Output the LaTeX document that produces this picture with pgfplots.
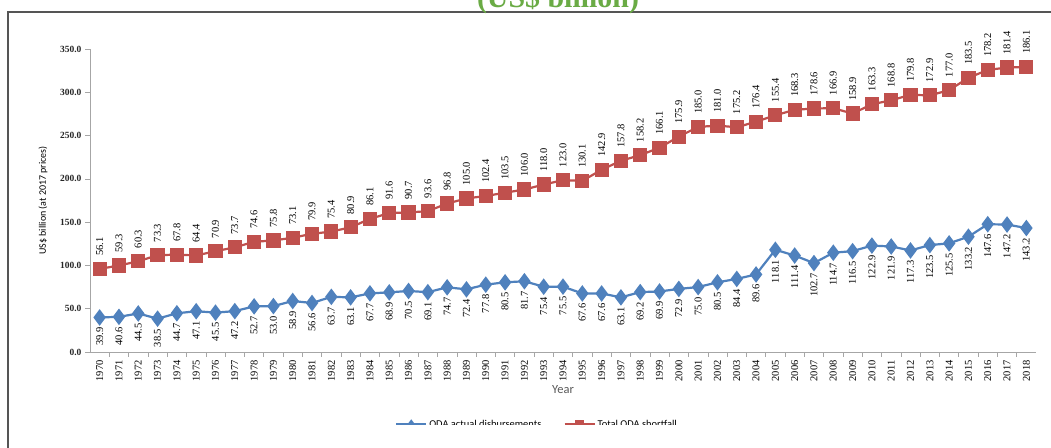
\documentclass[border=0pt]{standalone}
\usepackage{fontspec}
\setmainfont{Liberation Serif}
\newfontfamily\calibri{Carlito}
\usepackage{pgfplots}
\usepackage{pgfplotstable}
\pgfplotsset{compat=1.18}
\definecolor{odablue}{HTML}{4F81BD}
\definecolor{shortred}{HTML}{C0504D}
\definecolor{titlegreen}{HTML}{6AAB45}
\definecolor{framegray}{HTML}{555555}
\definecolor{axisgray}{HTML}{A6A6A6}

% oda = actual disbursements, short = shortfall (stacked on top of oda)
\pgfplotstableread{
i  year oda   short
0  1970 39.9  56.1
1  1971 40.6  59.3
2  1972 44.5  60.3
3  1973 38.5  73.3
4  1974 44.7  67.8
5  1975 47.1  64.4
6  1976 45.5  70.9
7  1977 47.2  73.7
8  1978 52.7  74.6
9  1979 53.0  75.8
10 1980 58.9  73.1
11 1981 56.6  79.9
12 1982 63.7  75.4
13 1983 63.1  80.9
14 1984 67.7  86.1
15 1985 68.9  91.6
16 1986 70.5  90.7
17 1987 69.1  93.6
18 1988 74.7  96.8
19 1989 72.4  105.0
20 1990 77.8  102.4
21 1991 80.5  103.5
22 1992 81.7  106.0
23 1993 75.4  118.0
24 1994 75.5  123.0
25 1995 67.6  130.1
26 1996 67.6  142.9
27 1997 63.1  157.8
28 1998 69.2  158.2
29 1999 69.9  166.1
30 2000 72.9  175.9
31 2001 75.0  185.0
32 2002 80.5  181.0
33 2003 84.4  175.2
34 2004 89.6  176.4
35 2005 118.1 155.4
36 2006 111.4 168.3
37 2007 102.7 178.6
38 2008 114.7 166.9
39 2009 116.5 158.9
40 2010 122.9 163.3
41 2011 121.9 168.8
42 2012 117.3 179.8
43 2013 123.5 172.9
44 2014 125.5 177.0
45 2015 133.2 183.5
46 2016 147.6 178.2
47 2017 147.2 181.4
48 2018 143.2 186.1
}\odatable

\begin{document}
\begin{tikzpicture}
\clip (0,0) rectangle (1051bp,448bp);
\fill[white] (0,0) rectangle (1051bp,448bp);
\draw[framegray, line width=1.2bp] (8bp,-20bp) rectangle (1080bp,436bp);
\node[titlegreen, font=\bfseries\fontsize{30}{30}\selectfont, anchor=base, inner sep=0pt]
  at (558bp,440bp) {(US\$ billion)};

\begin{axis}[
  at={(90bp,96bp)}, anchor=south west,
  scale only axis, width=946bp, height=303bp,
  xmin=-0.5, xmax=48.5, ymin=0, ymax=350,
  stack plots=y,
  axis lines*=left,
  axis line style={-, draw=axisgray, line width=0.8bp},
  tick align=outside,
  major tick length=5bp, minor tick length=5bp,
  every tick/.style={draw=axisgray, line width=0.6bp},
  xtick={0,...,48},
  xticklabels from table={\odatable}{year},
  major x tick style={draw=none},
  minor xtick={0.5,1.5,...,47.5},
  x tick label style={rotate=90, anchor=east, font=\fontsize{10.5}{12}\selectfont},
  ytick={0,50,...,350},
  yticklabel style={font=\bfseries\fontsize{9.5}{11}\selectfont, text=black!85},
  /pgf/number format/.cd, fixed, fixed zerofill, precision=1, assume math mode=true,
  /pgfplots/.cd,
  ylabel={US\$ billion (at 2017 prices)},
  ylabel style={at={(axis description cs:-0.0497,0.5)}, anchor=center,
    font=\calibri\fontsize{10}{12}\selectfont},
  xlabel={Year},
  xlabel style={at={(axis description cs:0.5,-0.125)}, anchor=center,
    font=\calibri\fontsize{12.5}{14}\selectfont, text=black!65},
  legend style={at={(axis description cs:0.4725,-0.238)}, anchor=center,
    draw=none, fill=none, font=\calibri\fontsize{10.5}{12}\selectfont,
    /tikz/every even column/.append style={column sep=20bp}},
  legend columns=2,
  legend image code/.code={
    \draw[#1, mark=none] (0bp,0bp) -- (30bp,0bp);
    \draw[#1, only marks, mark size=3bp] plot coordinates {(15bp,0bp)};
  },
]
\addplot[odablue, line width=2.2bp, mark=diamond*, mark size=6.5bp,
  mark options={solid},
  nodes near coords, point meta=explicit symbolic,
  every node near coord/.style={font=\fontsize{10.5}{12}\selectfont, text=black,
    yshift=-7bp, rotate=90, anchor=east, inner sep=2bp}]
  table[x=i, y=oda, meta=oda] {\odatable};
\addlegendentry{ODA actual disbursements}

\addplot[shortred, line width=2.2bp, mark=square*, mark size=6bp,
  mark options={solid},
  nodes near coords, point meta=explicit symbolic,
  every node near coord/.style={font=\fontsize{10.5}{12}\selectfont, text=black,
    yshift=10bp, rotate=90, anchor=west, inner sep=2bp}]
  table[x=i, y=short, meta=short] {\odatable};
\addlegendentry{Total ODA shortfall}
\end{axis}

% lower edge of the reference is cut through the legend text
\fill[white] (380bp,0bp) rectangle (700bp,23bp);
\end{tikzpicture}
\end{document}
